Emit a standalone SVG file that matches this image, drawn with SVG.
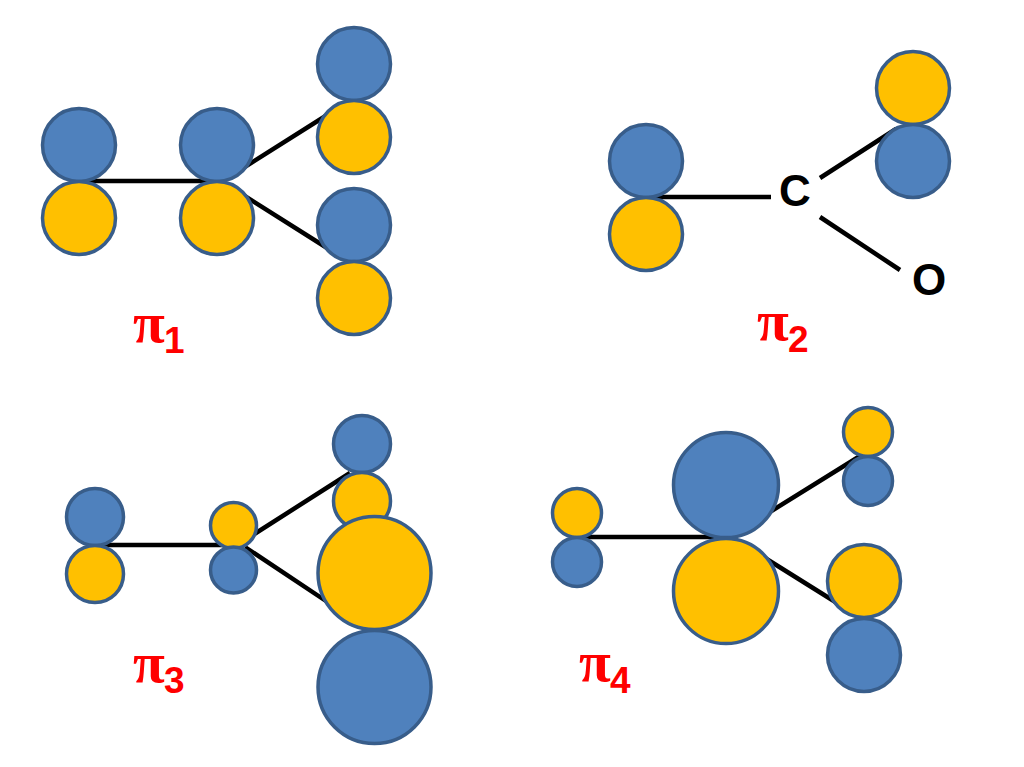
<svg xmlns="http://www.w3.org/2000/svg" width="1024" height="767" viewBox="0 0 1024 767">
<style>
.b{fill:#4f81bd;stroke:#385d8a;stroke-width:3.5}
.y{fill:#ffc000;stroke:#385d8a;stroke-width:3.5}
.l{stroke:#000;stroke-width:4.5;fill:none}
.p{font-family:"Liberation Serif",serif;font-weight:bold;fill:#ff0000;font-size:58px}
.s{font-family:"Liberation Sans",sans-serif;font-weight:bold;fill:#ff0000;font-size:37px}
.a{font-family:"Liberation Sans",sans-serif;font-weight:bold;fill:#000;font-size:44px;text-anchor:middle}
</style>
<rect width="1024" height="767" fill="#fff"/>
<g id="connectors">
<path class="l" d="M79 181H217M240 170L335 110M240 193L335 253"/>
<path class="l" d="M646 197H771M820 178L896 129M820 217L900 270"/>
<path class="l" d="M95 545H234M245 540L350 473M245 547L335 607"/>
<path class="l" d="M577 537H726M765 515L860 456M765 558L845 608"/>
</g>
<g id="pi1">
<circle class="b" cx="79" cy="145" r="36.5"/><circle class="y" cx="79" cy="218" r="36.5"/>
<circle class="b" cx="217" cy="145" r="36.5"/><circle class="y" cx="217" cy="218" r="36.5"/>
<circle class="b" cx="354" cy="64" r="36.5"/><circle class="y" cx="354" cy="137" r="36.5"/>
<circle class="b" cx="354" cy="225" r="36.5"/><circle class="y" cx="354" cy="298" r="36.5"/>
<text class="p" x="133" y="342">π</text><text class="s" x="164" y="353">1</text>
</g>
<g id="pi2">
<circle class="b" cx="646" cy="161" r="36.5"/><circle class="y" cx="646" cy="234" r="36.5"/>
<circle class="y" cx="913" cy="88" r="36.5"/><circle class="b" cx="913" cy="161" r="36.5"/>
<text class="a" x="795" y="206">C</text><text class="a" x="929" y="295">O</text>
<text class="p" x="757" y="340">π</text><text class="s" x="788" y="352">2</text>
</g>
<g id="pi3">
<circle class="b" cx="95" cy="517" r="28.5"/><circle class="y" cx="95" cy="574" r="28.5"/>
<circle class="y" cx="233.5" cy="525.5" r="23"/><circle class="b" cx="233.5" cy="570" r="23"/>
<circle class="b" cx="362" cy="444" r="28.5"/><circle class="y" cx="362" cy="501" r="28.5"/>
<circle class="y" cx="374.500" cy="573" r="56.500"/><circle class="b" cx="374.500" cy="687" r="56.500"/>
<text class="p" x="133" y="682">π</text><text class="s" x="164" y="693">3</text>
</g>
<g id="pi4">
<circle class="y" cx="577" cy="513" r="24.500"/><circle class="b" cx="577" cy="562" r="24.500"/>
<circle class="b" cx="726" cy="485" r="52.500"/><circle class="y" cx="726" cy="591" r="52.500"/>
<circle class="y" cx="868" cy="432" r="24.500"/><circle class="b" cx="868" cy="481" r="24.500"/>
<circle class="y" cx="864" cy="581" r="36.500"/><circle class="b" cx="864" cy="655" r="36.500"/>
<text class="p" x="579" y="681">π</text><text class="s" x="610" y="693">4</text>
</g>
</svg>
